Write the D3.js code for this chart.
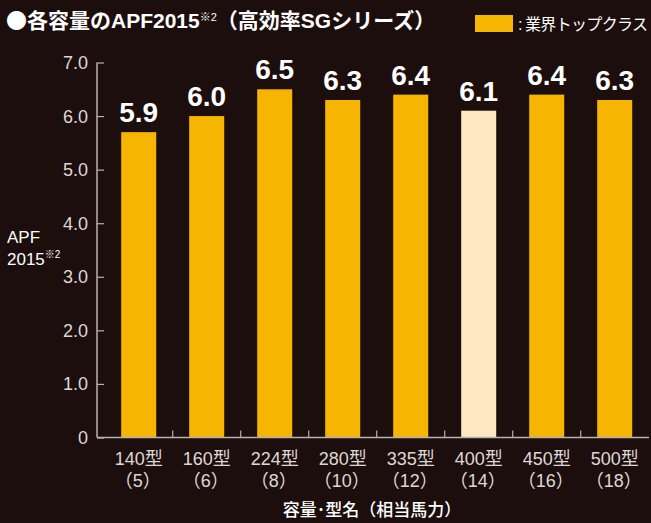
<!DOCTYPE html>
<html>
<head>
<meta charset="utf-8">
<script src="https://cdn.jsdelivr.net/npm/d3@7"></script>
<style>
  body { margin: 0; background: #1c0e0c; }
  text { font-family: "Liberation Sans", "Noto Sans CJK JP", sans-serif; }
</style>
</head>
<body>
<div id="chart"></div>
<script>
(function(){
  // model names and horsepower equivalents
  const models = ["140型", "160型", "224型", "280型", "335型", "400型", "450型", "500型"];
  const horsepower = ["（5）", "（6）", "（8）", "（10）", "（12）", "（14）", "（16）", "（18）"];
  // bar heights as drawn, and the printed value labels
  const barValues = [5.7, 6.0, 6.5, 6.3, 6.4, 6.1, 6.4, 6.3];
  const valueLabels = ["5.9", "6.0", "6.5", "6.3", "6.4", "6.1", "6.4", "6.3"];
  // which bars are "industry top class"
  const topClass = [true, true, true, true, true, false, true, true];
  const yTicks = [0, 1, 2, 3, 4, 5, 6, 7];

  const width = 651, height = 523;
  const x0 = 97, y0 = 437.5, yTop = 62.5;

  const svg = d3.select("#chart").append("svg")
    .attr("width", width)
    .attr("height", height);

  svg.append("rect").attr("width", width).attr("height", height).attr("fill", "#1c0e0c");

  const x = d3.scaleBand()
    .domain(models)
    .range([104.7, 648.7])
    .paddingInner(0.485)
    .paddingOuter(0.2425);

  const y = d3.scaleLinear().domain([0, 7]).range([y0, yTop]);

  // bars
  svg.selectAll(".bar")
    .data(models)
    .enter().append("rect")
    .attr("class", "bar")
    .attr("x", d => x(d))
    .attr("y", (d, i) => y(barValues[i]))
    .attr("width", x.bandwidth())
    .attr("height", (d, i) => y0 - y(barValues[i]))
    .attr("fill", (d, i) => topClass[i] ? "#f6b500" : "#fde8c2");

  // value labels
  svg.selectAll(".val")
    .data(models)
    .enter().append("text")
    .attr("x", d => x(d) + x.bandwidth() / 2)
    .attr("y", (d, i) => y(barValues[i]) - 10)
    .attr("text-anchor", "middle")
    .attr("fill", "#ffffff")
    .attr("font-size", 28)
    .attr("font-weight", "bold")
    .text((d, i) => valueLabels[i]);

  // y axis
  const yAxis = svg.append("g")
    .attr("transform", `translate(${x0},0)`)
    .call(d3.axisRight(y).tickValues(yTicks).tickSize(7).tickFormat(""));
  yAxis.select(".domain").remove();
  yAxis.selectAll("line").attr("stroke", "#b8b2b0").attr("stroke-width", 1.2);
  svg.append("line")
    .attr("x1", x0).attr("x2", x0)
    .attr("y1", yTop).attr("y2", y0)
    .attr("stroke", "#b8b2b0").attr("stroke-width", 1.5);

  svg.selectAll(".ytick")
    .data(yTicks)
    .enter().append("text")
    .attr("x", 88)
    .attr("y", d => y(d) + 6.5)
    .attr("text-anchor", "end")
    .attr("fill", "#dcd8d6")
    .attr("font-size", 18)
    .text(d => d === 0 ? "0" : d3.format(".1f")(d));

  // x axis
  svg.append("line")
    .attr("x1", x0).attr("x2", 649)
    .attr("y1", y0).attr("y2", y0)
    .attr("stroke", "#b8b2b0").attr("stroke-width", 1.5);
  const step = x.step();
  svg.selectAll(".xtick")
    .data(models.slice(1))
    .enter().append("line")
    .attr("x1", d => x(d) - x.paddingOuter() * step)
    .attr("x2", d => x(d) - x.paddingOuter() * step)
    .attr("y1", y0).attr("y2", y0 - 7)
    .attr("stroke", "#b8b2b0").attr("stroke-width", 1.2);

  const xl = svg.selectAll(".xlab")
    .data(models)
    .enter().append("text")
    .attr("text-anchor", "middle")
    .attr("fill", "#dcd8d6")
    .attr("font-size", 18);
  xl.append("tspan")
    .attr("x", d => x(d) + x.bandwidth() / 2)
    .attr("y", 465)
    .text(d => d);
  xl.append("tspan")
    .attr("x", d => x(d) + x.bandwidth() / 2 - 1)
    .attr("y", 487)
    .text((d, i) => horsepower[i]);

  // axis titles
  svg.append("text")
    .attr("x", 372).attr("y", 516)
    .attr("text-anchor", "middle")
    .attr("fill", "#ffffff")
    .attr("font-size", 17)
    .attr("font-weight", 500)
    .text("容量･型名（相当馬力）");

  const yt = svg.append("text").attr("fill", "#ffffff").attr("font-size", 17);
  yt.append("tspan").attr("x", 7).attr("y", 243).text("APF");
  yt.append("tspan").attr("x", 7).attr("y", 265).text("2015");
  yt.append("tspan").attr("dy", -7).attr("font-size", 10).text("※2");

  // title
  const title = svg.append("text")
    .attr("x", 6).attr("y", 28)
    .attr("fill", "#ffffff")
    .attr("font-size", 21)
    .attr("font-weight", "bold");
  title.append("tspan").style("font-family", "'Noto Sans CJK JP'").text("●");
  title.append("tspan").text("各容量のAPF2015");
  title.append("tspan").attr("dy", -7).attr("font-size", 11).attr("font-weight", "normal").text("※2");
  title.append("tspan").attr("dy", 7).text("（高効率SGシリーズ）");

  // legend
  svg.append("rect")
    .attr("x", 475).attr("y", 15)
    .attr("width", 38).attr("height", 17)
    .attr("fill", "#f6b500");
  svg.append("text")
    .attr("x", 518).attr("y", 30)
    .attr("fill", "#ffffff")
    .attr("font-size", 16)
    .text(":");
  svg.append("text")
    .attr("x", 525).attr("y", 30)
    .attr("fill", "#ffffff")
    .attr("font-size", 16)
    .attr("textLength", 123)
    .text("業界トップクラス");
})();
</script>
</body>
</html>
